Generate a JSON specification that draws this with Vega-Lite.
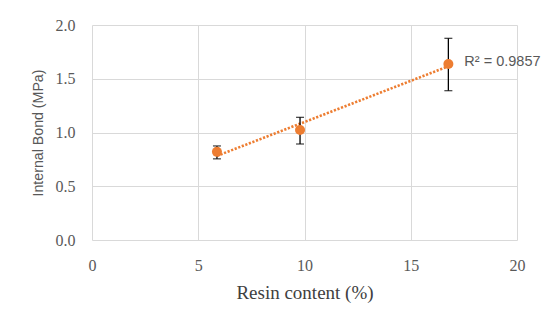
{
  "$schema": "https://vega.github.io/schema/vega-lite/v6.json",
  "autosize": "none",
  "width": 425,
  "height": 215,
  "padding": {"left": 92, "top": 25, "right": 33, "bottom": 93},
  "background": "white",
  "config": {
    "view": {"stroke": null},
    "axis": {"grid": true, "gridColor": "#d9d9d9", "gridWidth": 1, "domain": false, "ticks": false, "labelColor": "#595959", "labelFont": "Liberation Serif", "labelFontSize": 16, "titleColor": "#595959", "titleFontWeight": "normal"}
  },
  "data": {"values": [
    {"resin": 5.88, "ib": 0.82, "lo": 0.755, "hi": 0.875, "label": ""},
    {"resin": 9.79, "ib": 1.023, "lo": 0.893, "hi": 1.141, "label": ""},
    {"resin": 16.77, "ib": 1.637, "lo": 1.389, "hi": 1.876, "label": "R² = 0.9857"}
  ]},
  "encoding": {
    "x": {"field": "resin", "type": "quantitative", "scale": {"domain": [0, 20], "nice": false}, "axis": {"values": [0, 5, 10, 15, 20], "title": "Resin content (%)", "titleFont": "Liberation Serif", "titleFontSize": 19, "labelPadding": 17, "titlePadding": 10, "titleColor": "#404040", "labelFlush": false}},
    "y": {"field": "ib", "type": "quantitative", "scale": {"domain": [0, 2], "nice": false}, "axis": {"values": [0, 0.5, 1, 1.5, 2], "format": ".1f", "title": "Internal Bond (MPa)", "titleFont": "Liberation Sans", "titleFontSize": 14.2, "labelPadding": 17, "titlePadding": 10, "grid": true}}
  },
  "layer": [
    {
      "transform": [{"regression": "ib", "on": "resin"}],
      "mark": {"type": "line", "color": "#ED7D31", "strokeWidth": 2.6, "strokeDash": [2.2, 1.6], "strokeCap": "butt"}
    },
    {
      "mark": {"type": "rule", "color": "black", "strokeWidth": 1.3},
      "encoding": {
        "y": {"field": "lo", "type": "quantitative"},
        "y2": {"field": "hi"}
      }
    },
    {
      "mark": {"type": "tick", "orient": "horizontal", "color": "black", "size": 8, "thickness": 1.3},
      "encoding": {"y": {"field": "lo", "type": "quantitative"}}
    },
    {
      "mark": {"type": "tick", "orient": "horizontal", "color": "black", "size": 8, "thickness": 1.3},
      "encoding": {"y": {"field": "hi", "type": "quantitative"}}
    },
    {
      "mark": {"type": "point", "filled": true, "color": "#ED7D31", "opacity": 1, "size": 100}
    },
    {
      "mark": {"type": "text", "align": "left", "baseline": "middle", "dx": 16, "dy": -2, "font": "Liberation Sans", "fontSize": 14.5, "color": "#595959"},
      "encoding": {
        "text": {"field": "label"}
      }
    }
  ]
}
